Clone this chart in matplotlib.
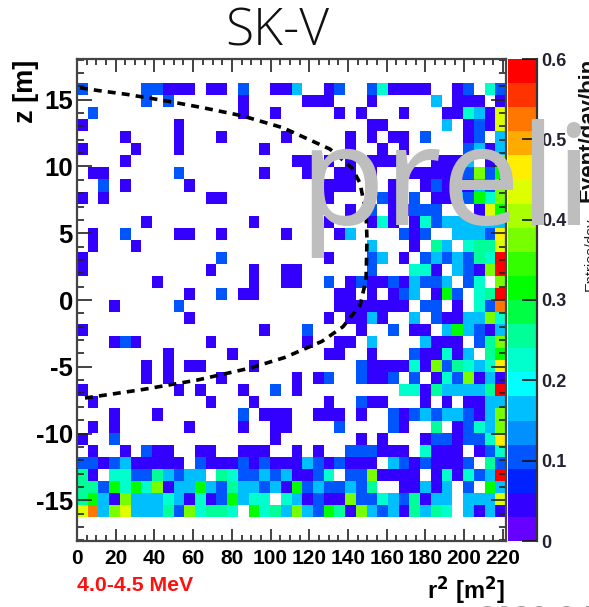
import numpy as np
import matplotlib
matplotlib.use("Agg")
import matplotlib.pyplot as plt
from matplotlib.colors import ListedColormap, Normalize
from matplotlib.ticker import MultipleLocator

W, H = 589, 607
# level codes: '.' empty, 0-9,a-j = colour bin (width 0.03 Event/day/bin)
rows = [
"..........  ..........  ..........  ..........",
"..........  ..........  ..........  ..........",
"3.....3311  1.11.3..11  5..13..371  111..13.73",
"......3.3.  .....1....  .111...1..  ...5.111.1",
".3........  .....1..1.  ....1.1...  1...11751e",
"1........1  ..........  .......11.  ....5.131e",
"....1....1  ...1.....1  .....1.1.1  1.3...13.5",
"1....1...1  .......1..  .....1..1.  1.....3515",
"....1.....  ..........  11.1.1.111  ...1115.1c",
".11......3  .......1..  .1..11.1..  .111113c3a",
"..3.1.....  1.........  ...111.3.1  ..1311153c",
"1.1.......  ..11......  ...1....31  .3.1153a7c",
"..........  ..........  .....1.3.1  1333...1ea",
"......1...  ......1...  ...1...171  .173555555",
".1..3....1  1..1.....1  ....15....  313..5553f",
".1...1....  ..........  .......5..  .1.85.788e",
"1.........  ...3......  ...1...35.  1.3535387j",
"1.........  ..1...1..1  1......3..  .771.531cj",
".......1..  ......1..1  1..3.13113  15335.37.c",
"..........  1..3.11...  ....11.1.1  35.1a3.78j",
"...1.....3  ..........  ....111111  1.33.1.73h",
"..........  1.........  ...1.1151.  .5.31155c7",
"1.........  .......1..  .3....1..3  .11.5a5315",
"...131....  ..1.......  .1..11.5..  ..5111.38c",
"........1.  ....1.....  ...11..1..  .311715.8a",
"......1.1.  11....1...  ......3111  171c38757f",
"......1.1.  ...1......  1.13..3113  .3.173c151",
"1........1  .1...1..3.  1.........  771855558j",
".1........  ..1...1...  ...1..311.  ..1.1.1155",
"...1...1..  .....3.111  ..111.1..3  135355315c",
".1.1......  1....1..11  ....3....3  1..8.1375c",
"1..3......  ........1.  ......1.1.  ..1331337f",
".1..1.311.  .11..111..  1.1..33311  1.7111.137",
"3313511111  .311131311  15313111.5  3131113.83",
"81.7733853  55.8733535  1137.33c11  11.171735j",
"883a7a7c15  5a53855351  a3533538..  11515.3.a5",
"8a51c55575  1713a577.7  51311c3375  38155.555e",
"eh5ce55583  c7887.a785  c53a81c535  18587.5151",
"..........  ..........  ..........  ..........",
"..........  ..........  ..........  ..........",
]
palette = ["#6600ff", "#3300ff", "#0022ff", "#0055ff", "#0090ff", "#00bfff", "#00ffff",
           "#00ffcc", "#00ff99", "#00ff44", "#00ff00", "#33ff00", "#77ff00", "#aaff00",
           "#ddff00", "#ffee00", "#ffaa00", "#ff7700", "#ff3300", "#ff0000"]
codes = "0123456789abcdefghij"
curve_r2 = [1.5, 10.3, 25.8, 46.5, 65.1, 85.2, 106.4, 130.7, 142, 146.2, 149.3, 149.8,
            149.3, 146.2, 137.4, 126.5, 107.4, 89.4, 62, 34.1, 1.5]
curve_z = [15.9, 15.7, 15.4, 14.9, 14.4, 13.8, 12.9, 11.3, 9.9, 8.75, 6.5, 4.5,
           1.5, -0.4, -2.0, -3.1, -4.3, -5.1, -6.0, -6.7, -7.4]
xticks = list(range(0, 221, 20))
yticks = [-15, -10, -5, 0, 5, 10, 15]
cticks = [0, 0.1, 0.2, 0.3, 0.4, 0.5, 0.6]

plt.rcParams['font.family'] = ['Liberation Sans', 'DejaVu Sans']
plt.rcParams['mathtext.default'] = 'regular'
grid = np.full((40, 40), np.nan)
for i, r in enumerate(rows):
    for j, c in enumerate(r.replace(" ", "")):
        if c != ".":
            grid[i, j] = (codes.index(c) + 0.5) * 0.03
grid = grid[::-1]

fig = plt.figure(figsize=(W / 100, H / 100), dpi=100)
def box(l, t, r, b):
    return [l / W, 1 - b / H, (r - l) / W, (b - t) / H]
ax = fig.add_axes(box(77, 59, 506, 541))
xe = np.linspace(0, 221.6, 41)
ye = np.linspace(-18.05, 18.05, 41)
cmap = ListedColormap(palette)
norm = Normalize(0, 0.6)
m = ax.pcolormesh(xe, ye, grid, cmap=cmap, norm=norm, linewidth=0, rasterized=True)
ax.plot(curve_r2, curve_z, color="black", lw=2.6, ls=(0, (2.2, 1.7)))
ax.set_xlim(0, 221.6)
ax.set_ylim(-18.05, 18.05)
ax.xaxis.set_minor_locator(MultipleLocator(5))
ax.yaxis.set_minor_locator(MultipleLocator(1))
ax.set_xticks(xticks)
ax.set_yticks(yticks)
ax.set_xticklabels([str(v) for v in xticks], fontweight='bold', fontsize=15)
ax.set_yticklabels([str(v) for v in yticks], fontweight='bold', fontsize=18.5)
ax.tick_params(axis='x', which='major', direction='in', top=True, length=9, width=1.2, pad=6, color='#222')
ax.tick_params(axis='x', which='minor', direction='in', top=True, length=4.5, width=1.2, color='#222')
ax.tick_params(axis='y', which='major', direction='in', right=True, length=11, width=1.2, pad=3, color='#222')
ax.tick_params(axis='y', which='minor', direction='in', right=True, length=5, width=1.2, color='#222')
for s, sp in ax.spines.items():
    sp.set_color('#444')
    sp.set_linewidth(1.6)

cax = fig.add_axes(box(508, 59, 537, 541))
cb = fig.colorbar(m, cax=cax, drawedges=False)
cb.set_ticks(cticks)
cb.set_ticklabels(["0", "0.1", "0.2", "0.3", "0.4", "0.5", "0.6"], fontweight='bold', fontsize=13, color='#223')
cax.tick_params(direction='in', length=11, width=1.2, color='#111', pad=3)
cb.outline.set_visible(False)
cax.spines['right'].set_visible(True)
cax.spines['right'].set_color('#333')
cax.spines['right'].set_linewidth(1.6)

def tx(px, py, s, **k):
    return fig.text(px / W, 1 - py / H, s, **k)
tx(277, 46, "SK-V", fontsize=37, ha='center', va='baseline', family=['Open Sans', 'DejaVu Sans'],
   fontweight='light', color='#111')
tx(299, 225, "preli", fontsize=100, ha='left', va='baseline', color='#bebebe',
   family=['Noto Sans', 'DejaVu Sans'], zorder=10)
tx(26, 91, "z [m]", rotation=90, ha='center', va='center', fontweight='bold', fontsize=19.5)
tx(466, 590, "r$^{\\mathbf{2}}$ [m$^{\\mathbf{2}}$]", ha='center', va='center', fontweight='bold', fontsize=17)
tx(77, 591, "4.0-4.5 MeV", color='#ff1010', fontweight='bold', fontsize=15.3, ha='left', va='baseline')
tx(593, 130, "Event/day/bin", rotation=90, ha='center', va='baseline', rotation_mode='anchor', fontsize=16,
   fontweight='bold', color='#111')
tx(595, 254, "Entries/day", rotation=90, ha='center', va='baseline', rotation_mode='anchor', fontsize=10.5, color='#222')
tx(478, 628, "2020-04", fontsize=22, color='#999999', ha='left', va='baseline', family=['Noto Sans', 'DejaVu Sans'])
fig.savefig("out.png", dpi=100)
